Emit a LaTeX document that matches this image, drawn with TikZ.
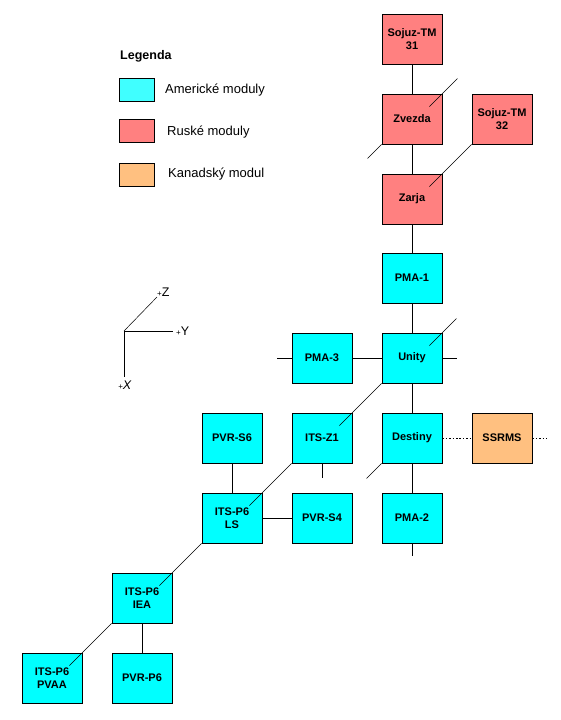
\documentclass[tikz,border=0pt]{standalone}
\usepackage{fontspec}
\setmainfont{Liberation Sans}
\usetikzlibrary{calc}
\definecolor{usc}{HTML}{00FFFF}
\definecolor{uslg}{HTML}{40FFFF}
\definecolor{ruc}{HTML}{FF8080}
\definecolor{cac}{HTML}{FFC080}
\tikzset{
  modbox/.style={draw, line width=0.8pt, minimum width=60pt, minimum height=50pt,
    inner sep=0pt, align=center, font=\bfseries\fontsize{11}{13.5}\selectfont},
  usmod/.style={modbox, fill=usc},
  rumod/.style={modbox, fill=ruc},
  camod/.style={modbox, fill=cac},
  link/.style={line width=0.8pt},
  diag/.style={line width=0.5pt},
  dotlink/.style={line width=0.8pt, dash pattern=on 1.6pt off 1.8pt},
  lgbox/.style={draw, line width=0.8pt, minimum width=35pt, minimum height=23pt, inner sep=0pt},
  lgtext/.style={anchor=west, inner sep=0pt, font=\fontsize{13}{15}\selectfont},
  axlbl/.style={inner sep=0pt, font=\fontsize{12.5}{12.5}\selectfont}
}
\newcommand{\axplus}{{\fontsize{8}{8}\selectfont +}}
\begin{document}
\begin{tikzpicture}[x=1pt,y=-1pt]
\useasboundingbox (0,0) rectangle (560,720);
% modules
\node[rumod] (s31) at (412,39) {Sojuz-TM\\31};
\node[rumod] (zv) at (412,119) {Zvezda};
\node[rumod] (s32) at (502,119) {Sojuz-TM\\32};
\node[rumod] (za) at (412,199) {Zarja};
\node[usmod] (pma1) at (412,278) {PMA-1};
\node[usmod] (pma3) at (322,358) {PMA-3};
\node[usmod] (un) at (412,358) {Unity};
\node[usmod] (s6) at (232,438) {PVR-S6};
\node[usmod] (z1) at (322,438) {ITS-Z1};
\node[usmod] (de) at (412,438) {Destiny};
\node[camod] (ss) at (502,438) {SSRMS};
\node[usmod] (ls) at (232,518) {ITS-P6\\LS};
\node[usmod] (s4) at (322,518) {PVR-S4};
\node[usmod] (pma2) at (412,518) {PMA-2};
\node[usmod] (iea) at (142,598) {ITS-P6\\IEA};
\node[usmod] (pvaa) at (52,678) {ITS-P6\\PVAA};
\node[usmod] (p6) at (142,678) {PVR-P6};
% vertical / horizontal links
\draw[link] (s31) -- (zv);
\draw[link] (zv) -- (za);
\draw[link] (za) -- (pma1);
\draw[link] (pma1) -- (un);
\draw[link] (un) -- (de);
\draw[link] (de) -- (pma2);
\draw[link] (pma2.south) -- +(0,13);
\draw[link] (pma3) -- (un);
\draw[link] (pma3.west) -- +(-15,0);
\draw[link] (un.east) -- +(15,0);
\draw[link] (z1.south) -- +(0,15);
\draw[link] (s6) -- (ls);
\draw[link] (ls) -- (s4);
\draw[link] (iea) -- (p6);
\draw[dotlink] (de) -- (ss);
\draw[dotlink] (ss.east) -- +(15,0);
% diagonal (depth) links
\draw[diag] ($(zv.north east)+(-13,13)$) -- +(28,-28);
\draw[diag] (zv.south west) -- +(-14,14);
\draw[diag] (s32.south west) -- ($(za.north east)+(-13,13)$);
\draw[diag] ($(un.north east)+(-13,13)$) -- +(27,-27);
\draw[diag] (un.south west) -- ($(z1.north east)+(-13,13)$);
\draw[diag] (de.south west) -- +(-15,15);
\draw[diag] (z1.south west) -- ($(ls.north east)+(-13,13)$);
\draw[diag] (ls.south west) -- ($(iea.north east)+(-13,13)$);
\draw[diag] (iea.south west) -- ($(pvaa.north east)+(-13,13)$);
% legend
\node[anchor=west, inner sep=0pt, font=\bfseries\fontsize{12.5}{14}\selectfont] (lgtitle) at (120,56) {Legenda};
\node[lgbox, fill=uslg] (lga) at (136.5,89.5) {};
\node[lgbox, fill=ruc] (lgr) at (136.5,131) {};
\node[lgbox, fill=cac] (lgc) at (136.5,174.5) {};
\node[lgtext] (lgat) at (165,90.5) {Americké moduly};
\node[lgtext] (lgrt) at (167,132.5) {Ruské moduly};
\node[lgtext] (lgct) at (168,174.5) {Kanadský modul};
% axes
\coordinate (ax0) at (124,331);
\coordinate (axy) at (173,331);
\coordinate (axz) at (157,297);
\coordinate (axx) at (124,377);
\draw[link] (ax0) -- (axy);
\draw[link] (ax0) -- (axx);
\draw[diag] (ax0) -- (axz);
\node[axlbl, anchor=west] (ly) at ($(axy)+(3,0)$) {\axplus Y};
\node[axlbl, anchor=south west] (lz) at ($(axz)+(0,-0.5)$) {\axplus Z};
\node[axlbl, anchor=north] (lx) at ($(axx)+(1,4)$) {\axplus\textit{X}};
\end{tikzpicture}
\end{document}
